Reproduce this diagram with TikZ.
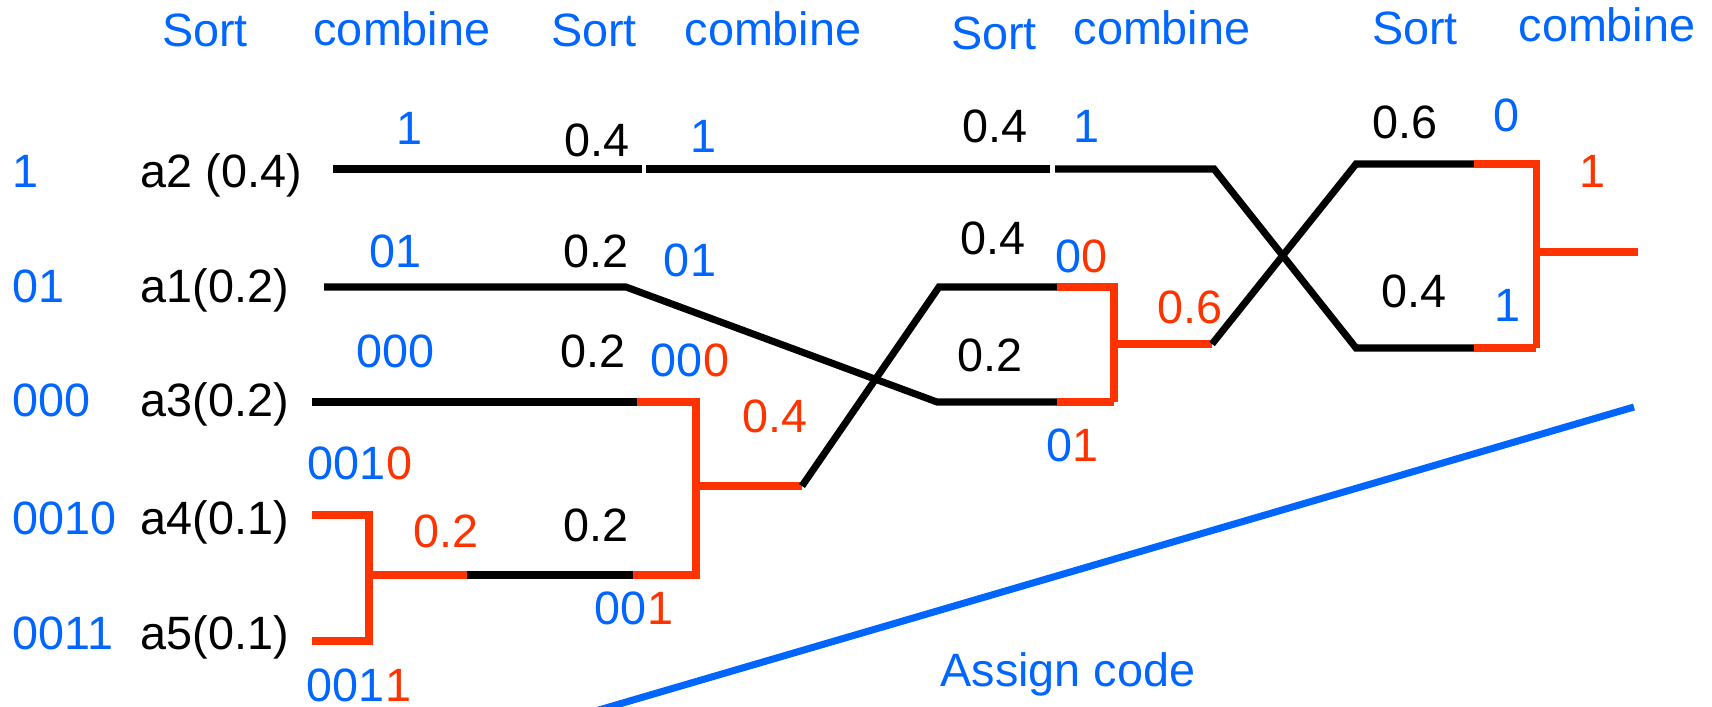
\documentclass[tikz,border=0pt]{standalone}
\usepackage{fontspec}
\setmainfont{Liberation Sans}
\definecolor{codeblue}{RGB}{0,102,255}
\definecolor{sumred}{RGB}{255,51,0}
\newcommand{\rd}[1]{\textcolor{sumred}{#1}}
\tikzset{
  lbl/.style={anchor=base, inner sep=0pt, font=\fontsize{13.3}{16}\selectfont},
  code/.style={lbl, text=codeblue},
  prob/.style={lbl, text=black},
  psum/.style={lbl, text=sumred},
  wire/.style={line width=2pt, black},
  mwire/.style={line width=2pt, sumred},
}

\begin{document}
\begin{tikzpicture}[x=0.01cm, y=-0.01cm]
    \useasboundingbox (0,0) rectangle (1712,707);
    % stage headers
    \foreach \x/\y/\t [count=\i] in {205/47/Sort, 402/46/combine, 594/47/Sort, 773/46/combine,
                                    994/50/Sort, 1162/45/combine, 1415/45/Sort, 1607/42/combine}
      \node[code] (hd\i) at (\x,\y) {\t};
    % final codes and symbols
    \foreach \y/\c/\s [count=\i] in {188/1/a2 (0.4), 303/01/a1(0.2), 417/000/a3(0.2), 535/0010/a4(0.1), 650/0011/a5(0.1)} {
      \node[code, anchor=base west] (cw\i) at (12,\y) {\c};
      \node[prob, anchor=base west] (sym\i) at (140,\y) {\s};
    }
    % codes along the tree
    \node[code] (c2a) at (410,145) {1};
    \node[code] (c2b) at (703,153) {1};
    \node[code] (c2c) at (1086,143) {1};
    \node[code] (c1a) at (396,268) {01};
    \node[code] (c1b) at (690,277) {01};
    \node[code] (c3a) at (396,368) {000};
    \node[code] (c3b) at (690,377) {00\rd{0}};
    \node[code] (c4a) at (360,480) {001\rd{0}};
    \node[code] (c5a) at (359,702) {001\rd{1}};
    \node[code] (c45) at (634,625) {00\rd{1}};
    \node[code] (c345) at (1081,273) {0\rd{0}};
    \node[code] (c1x) at (1072,462) {0\rd{1}};
    \node[code] (cl) at (1506,132) {0};
    \node[code] (cr) at (1507,322) {1};
    % weights
    \node[prob] (p2a) at (597,157) {0.4};
    \node[prob] (p1a) at (596,268) {0.2};
    \node[prob] (p3a) at (593,368) {0.2};
    \node[prob] (p45) at (596,542) {0.2};
    \node[prob] (p2b) at (995,143) {0.4};
    \node[prob] (p345) at (993,255) {0.4};
    \node[prob] (p1b) at (990,372) {0.2};
    \node[prob] (p6) at (1405,139) {0.6};
    \node[prob] (p4) at (1414,308) {0.4};
    \node[psum] (q1) at (446,548) {0.2};
    \node[psum] (q2) at (775,433) {0.4};
    \node[psum] (q3) at (1190,324) {0.6};
    \node[psum] (q4) at (1592,188) {1};
    \node[code] (assign) at (1068,687) {Assign code};

    % tree points
    \coordinate (s2) at (333,169);
    \coordinate (s1) at (324,287);
    \coordinate (s3) at (312,402);
    \coordinate (s4) at (312,515);
    \coordinate (s5) at (312,641);
    \coordinate (m1) at (369,575);
    \coordinate (m2) at (696,486);
    \coordinate (m3) at (1114,344);
    \coordinate (m4) at (1536,252);
    \coordinate (root) at (1638,252);

    % a2
    \draw[wire] (s2) -- (642,169);
    \draw[wire] (646,169) -- (1050,169);
    \draw[wire] (1055,169) -- (1214,169) -- (1356,348) -- (1474,348);
    \draw[mwire] (1474,348) -- (1536,348);
    % a1
    \draw[wire] (s1) -- (626,287) -- (937,402) -- (1057,402);
    \draw[mwire] (1057,402) -- (1114,402);
    % a3
    \draw[wire] (s3) -- (637,402);
    \draw[mwire] (637,402) -- (696,402);
    % a4 + a5
    \draw[mwire, line join=miter] (s4) -| (m1) |- (s5);
    \draw[mwire] (m1) -- (467,575);
    \draw[wire] (467,575) -- (633,575);
    \draw[mwire, line join=miter] (633,575) -| (m2) |- (637,402);
    % 0.4 branch
    \draw[mwire] (m2) -- (802,486);
    \draw[wire] (802,486) -- (939,287) -- (1057,287);
    \draw[mwire, line join=miter] (1057,287) -| (m3) |- (1114,402);
    % 0.6 branch
    \draw[mwire] (m3) -- (1212,344);
    \draw[wire] (1212,344) -- (1356,164) -- (1474,164);
    \draw[mwire, line join=miter] (1474,164) -| (m4) |- (1536,348);
    \draw[mwire] (m4) -- (root);

    % assign code direction
    \draw[line width=2pt, codeblue] (575,717) -- (1634,407);
\end{tikzpicture}
\end{document}
